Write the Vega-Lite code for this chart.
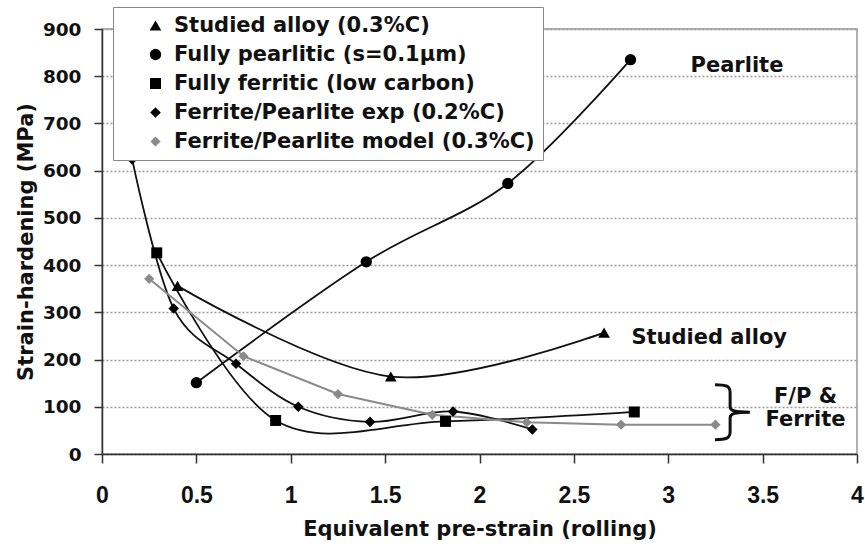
{
  "$schema": "https://vega.github.io/schema/vega-lite/v6.json",
  "autosize": {"type": "none"},
  "padding": {"left": 102, "top": 29, "right": 8, "bottom": 90},
  "width": 755,
  "height": 425,
  "background": "white",
  "config": {
    "view": {"stroke": "#999", "strokeWidth": 1.5},
    "font": "DejaVu Sans",
    "axis": {"labelFontWeight": "bold"}
  },
  "datasets": {
    "series": [
      {"series": "Studied alloy (0.3%C)", "x": 0.40, "y": 356},
      {"series": "Studied alloy (0.3%C)", "x": 1.53, "y": 164},
      {"series": "Studied alloy (0.3%C)", "x": 2.66, "y": 257},
      {"series": "Fully pearlitic (s=0.1µm)", "x": 0.50, "y": 151},
      {"series": "Fully pearlitic (s=0.1µm)", "x": 1.40, "y": 407},
      {"series": "Fully pearlitic (s=0.1µm)", "x": 2.15, "y": 573},
      {"series": "Fully pearlitic (s=0.1µm)", "x": 2.80, "y": 835},
      {"series": "Fully ferritic (low carbon)", "x": 0.29, "y": 426},
      {"series": "Fully ferritic (low carbon)", "x": 0.92, "y": 71},
      {"series": "Fully ferritic (low carbon)", "x": 1.82, "y": 69},
      {"series": "Fully ferritic (low carbon)", "x": 2.82, "y": 89},
      {"series": "Ferrite/Pearlite exp (0.2%C)", "x": 0.16, "y": 624},
      {"series": "Ferrite/Pearlite exp (0.2%C)", "x": 0.38, "y": 308},
      {"series": "Ferrite/Pearlite exp (0.2%C)", "x": 0.71, "y": 191},
      {"series": "Ferrite/Pearlite exp (0.2%C)", "x": 1.04, "y": 100},
      {"series": "Ferrite/Pearlite exp (0.2%C)", "x": 1.42, "y": 68},
      {"series": "Ferrite/Pearlite exp (0.2%C)", "x": 1.86, "y": 90},
      {"series": "Ferrite/Pearlite exp (0.2%C)", "x": 2.28, "y": 52},
      {"series": "Ferrite/Pearlite model (0.3%C)", "x": 0.25, "y": 371},
      {"series": "Ferrite/Pearlite model (0.3%C)", "x": 0.75, "y": 207},
      {"series": "Ferrite/Pearlite model (0.3%C)", "x": 1.25, "y": 127},
      {"series": "Ferrite/Pearlite model (0.3%C)", "x": 1.75, "y": 83},
      {"series": "Ferrite/Pearlite model (0.3%C)", "x": 2.25, "y": 67},
      {"series": "Ferrite/Pearlite model (0.3%C)", "x": 2.75, "y": 62},
      {"series": "Ferrite/Pearlite model (0.3%C)", "x": 3.25, "y": 62}
    ],
    "notes": [
      {"label": "Pearlite", "x": 3.364, "y": 810},
      {"label": "Studied alloy", "x": 3.217, "y": 233},
      {"label": "F/P &", "x": 3.727, "y": 109},
      {"label": "Ferrite", "x": 3.727, "y": 60}
    ],
    "brace": [
      {"x": 3.338, "y": 88.6}
    ]
  },
  "layer": [
    {
      "data": {"name": "series"},
      "transform": [{"filter": "datum.series !== 'Ferrite/Pearlite model (0.3%C)'"}],
      "mark": {"type": "line", "interpolate": "cardinal", "tension": 0, "color": "#111", "strokeWidth": 1.8},
      "encoding": {
        "x": {"field": "x", "type": "quantitative", "scale": {"domain": [0, 4], "nice": false},
          "axis": {
            "values": [0, 0.5, 1, 1.5, 2, 2.5, 3, 3.5, 4],
            "labelExpr": "datum.value",
            "grid": false,
            "domainColor": "#333", "domainWidth": 1.5,
            "tickColor": "#333", "tickWidth": 1.5, "tickSize": 9,
            "labelFont": "Liberation Sans", "labelFontWeight": "bold", "labelFontSize": 23,
            "labelColor": "#111", "labelBaseline": "alphabetic", "labelPadding": 39, "labelFlush": false,
            "title": "Equivalent pre-strain (rolling)",
            "titleFont": "DejaVu Sans", "titleFontWeight": "bold", "titleFontSize": 21,
            "titleColor": "#111", "titleBaseline": "alphabetic", "titleY": 81
          }
        },
        "y": {"field": "y", "type": "quantitative", "scale": {"domain": [0, 900], "nice": false},
          "axis": {
            "values": [0, 100, 200, 300, 400, 500, 600, 700, 800, 900],
            "grid": true, "gridColor": "#999", "gridDash": [2, 2], "gridWidth": 1.3,
            "domainColor": "#333", "domainWidth": 1.5,
            "tickColor": "#333", "tickWidth": 1.5, "tickSize": 8,
            "labelFont": "DejaVu Sans", "labelFontWeight": "bold", "labelFontSize": 18.5,
            "labelColor": "#111", "labelPadding": 13,
            "title": "Strain-hardening (MPa)",
            "titleFont": "DejaVu Sans", "titleFontWeight": "bold", "titleFontSize": 21,
            "titleColor": "#111", "titleAngle": 270, "titleBaseline": "alphabetic", "titleX": -70
          }
        },
        "detail": {"field": "series"}
      }
    },
    {
      "data": {"name": "series"},
      "transform": [{"filter": "datum.series === 'Ferrite/Pearlite model (0.3%C)'"}],
      "mark": {"type": "line", "interpolate": "linear", "color": "#8a8a8a", "strokeWidth": 2},
      "encoding": {
        "x": {"field": "x", "type": "quantitative"},
        "y": {"field": "y", "type": "quantitative"}
      }
    },
    {
      "data": {"name": "series"},
      "mark": {"type": "point", "filled": true, "opacity": 1},
      "encoding": {
        "x": {"field": "x", "type": "quantitative"},
        "y": {"field": "y", "type": "quantitative"},
        "color": {"field": "series", "type": "nominal",
          "scale": {"domain": ["Studied alloy (0.3%C)", "Fully pearlitic (s=0.1µm)", "Fully ferritic (low carbon)", "Ferrite/Pearlite exp (0.2%C)", "Ferrite/Pearlite model (0.3%C)"],
                    "range": ["#000", "#000", "#000", "#000", "#8a8a8a"]},
          "legend": {
            "orient": "none", "legendX": 11, "legendY": -22, "title": null,
            "padding": 8, "strokeColor": "#888", "fillColor": "white",
            "labelFont": "DejaVu Sans", "labelFontWeight": "bold", "labelFontSize": 21,
            "labelColor": "#111", "labelLimit": 1000,
            "symbolSize": 144, "symbolOffset": 24, "labelOffset": 8, "rowPadding": 7,
            "symbolStrokeWidth": 0,
            "symbolType": {"expr": "indexOf(datum.value, 'Studied') === 0 ? 'M-2.7,-0.15H2.7V0.15H-2.7ZM0,-0.95L1,0.85L-1,0.85Z' : indexOf(datum.value, 'Fully pearlitic') === 0 ? 'M-2.7,-0.15H2.7V0.15H-2.7ZM-0.95,0A0.95,0.95 0 1,1 0.95,0A0.95,0.95 0 1,1 -0.95,0Z' : indexOf(datum.value, 'Fully ferritic') === 0 ? 'M-2.7,-0.15H2.7V0.15H-2.7ZM-0.9,-0.9H0.9V0.9H-0.9Z' : indexOf(datum.value, 'Ferrite/Pearlite exp') === 0 ? 'M-2.7,-0.15H2.7V0.15H-2.7ZM0,-1L1,0L0,1L-1,0Z' : 'M-2.7,-0.15H2.7V0.15H-2.7ZM0,-0.8L0.8,0L0,0.8L-0.8,0Z'"}
          }
        },
        "shape": {"field": "series", "type": "nominal",
          "scale": {"domain": ["Studied alloy (0.3%C)", "Fully pearlitic (s=0.1µm)", "Fully ferritic (low carbon)", "Ferrite/Pearlite exp (0.2%C)", "Ferrite/Pearlite model (0.3%C)"],
                    "range": ["triangle-up", "circle", "square", "diamond", "diamond"]},
          "legend": null
        },
        "size": {"field": "series", "type": "nominal",
          "scale": {"domain": ["Studied alloy (0.3%C)", "Fully pearlitic (s=0.1µm)", "Fully ferritic (low carbon)", "Ferrite/Pearlite exp (0.2%C)", "Ferrite/Pearlite model (0.3%C)"],
                    "range": [137, 104, 151, 160, 86]},
          "legend": null
        }
      }
    },
    {
      "data": {"name": "notes"},
      "mark": {"type": "text", "font": "DejaVu Sans", "fontWeight": "bold", "fontSize": 21, "color": "#111", "align": "center", "baseline": "alphabetic"},
      "encoding": {
        "x": {"field": "x", "type": "quantitative"},
        "y": {"field": "y", "type": "quantitative"},
        "text": {"field": "label"}
      }
    },
    {
      "data": {"name": "brace"},
      "mark": {"type": "point", "filled": false, "opacity": 1, "color": "#111", "strokeWidth": 3, "size": 3025,
        "shape": "M-0.62,-1C-0.2,-1 -0.07,-0.95 -0.07,-0.7L-0.07,-0.2C-0.07,-0.05 0.1,0 0.65,0C0.1,0 -0.07,0.05 -0.07,0.2L-0.07,0.7C-0.07,0.95 -0.2,1 -0.62,1"},
      "encoding": {
        "x": {"field": "x", "type": "quantitative"},
        "y": {"field": "y", "type": "quantitative"}
      }
    }
  ]
}
